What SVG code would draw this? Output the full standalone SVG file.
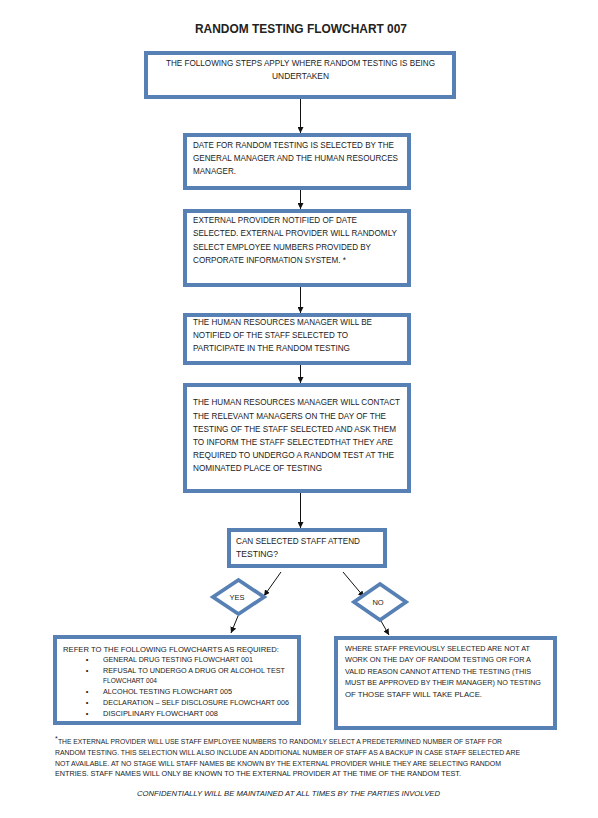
<svg xmlns="http://www.w3.org/2000/svg" width="598" height="818" viewBox="0 0 598 818">
<defs>
<marker id="ah" viewBox="0 0 10 10" refX="10" refY="5" markerWidth="6" markerHeight="6" markerUnits="userSpaceOnUse" orient="auto">
<path d="M0,0 L10,5 L0,10 Z" fill="#111"/>
</marker>
</defs>
<style>
.box{fill:#fff;stroke:#5780b4;stroke-width:4}
.dia{fill:#fff;stroke:#5780b4;stroke-width:3.8}
.t{font-family:"Liberation Sans",Arial,sans-serif;font-size:8.4px;fill:#222}
.s{font-family:"Liberation Sans",Arial,sans-serif;font-size:7.5px;fill:#222}
.f{font-family:"Liberation Sans",Arial,sans-serif;font-size:7px;fill:#222}
.c{stroke:#111;stroke-width:1;fill:none;marker-end:url(#ah)}
</style>
<rect width="598" height="818" fill="#fff"/>
<text x="301" y="33" text-anchor="middle" font-family="Liberation Sans,Arial,sans-serif" font-weight="bold" font-size="13.5" fill="#222" textLength="212" lengthAdjust="spacingAndGlyphs">RANDOM TESTING FLOWCHART 007</text>

<g id="connectors">
<line class="c" x1="300.5" y1="99" x2="300.5" y2="133"/>
<line class="c" x1="300.5" y1="190" x2="300.5" y2="209"/>
<line class="c" x1="300.5" y1="287" x2="300.5" y2="313"/>
<line class="c" x1="300.5" y1="365" x2="300.5" y2="383"/>
<line class="c" x1="300.5" y1="493" x2="300.5" y2="528"/>
<line class="c" x1="281" y1="572" x2="264" y2="596"/>
<line class="c" x1="343" y1="572" x2="364" y2="597"/>
<line class="c" x1="238" y1="616" x2="231" y2="633"/>
<line class="c" x1="381" y1="621" x2="389" y2="635"/>
</g>

<g id="n1">
<rect class="box" x="146" y="53" width="308" height="44"/>
<text class="t" x="300.5" y="66" text-anchor="middle" textLength="269" lengthAdjust="spacingAndGlyphs">THE FOLLOWING STEPS APPLY WHERE RANDOM TESTING IS BEING</text>
<text class="t" x="300.5" y="79" text-anchor="middle">UNDERTAKEN</text>
</g>

<g id="n2">
<rect class="box" x="185" y="135" width="224" height="53"/>
<text class="t" x="193" y="148" textLength="201" lengthAdjust="spacingAndGlyphs">DATE FOR RANDOM TESTING IS SELECTED BY THE</text>
<text class="t" x="193" y="161" textLength="205" lengthAdjust="spacingAndGlyphs">GENERAL MANAGER AND THE HUMAN RESOURCES</text>
<text class="t" x="193" y="174" textLength="43" lengthAdjust="spacingAndGlyphs">MANAGER.</text>
</g>

<g id="n3">
<rect class="box" x="185" y="211" width="224" height="74"/>
<text class="t" x="193" y="223" textLength="164" lengthAdjust="spacingAndGlyphs">EXTERNAL PROVIDER NOTIFIED OF DATE</text>
<text class="t" x="193" y="236" textLength="204" lengthAdjust="spacingAndGlyphs">SELECTED. EXTERNAL PROVIDER WILL RANDOMLY</text>
<text class="t" x="193" y="250" textLength="178" lengthAdjust="spacingAndGlyphs">SELECT EMPLOYEE NUMBERS PROVIDED BY</text>
<text class="t" x="193" y="263" textLength="153" lengthAdjust="spacingAndGlyphs">CORPORATE INFORMATION SYSTEM. *</text>
</g>

<g id="n4">
<rect class="box" x="185" y="315" width="224" height="48"/>
<text class="t" x="193" y="325" textLength="179" lengthAdjust="spacingAndGlyphs">THE HUMAN RESOURCES MANAGER WILL BE</text>
<text class="t" x="193" y="338" textLength="155" lengthAdjust="spacingAndGlyphs">NOTIFIED OF THE STAFF SELECTED TO</text>
<text class="t" x="193" y="351" textLength="157" lengthAdjust="spacingAndGlyphs">PARTICIPATE IN THE RANDOM TESTING</text>
</g>

<g id="n5">
<rect class="box" x="185" y="385" width="224" height="106"/>
<text class="t" x="193" y="405" textLength="207" lengthAdjust="spacingAndGlyphs">THE HUMAN RESOURCES MANAGER WILL CONTACT</text>
<text class="t" x="193" y="418.5" textLength="193" lengthAdjust="spacingAndGlyphs">THE RELEVANT MANAGERS ON THE DAY OF THE</text>
<text class="t" x="193" y="431.5" textLength="203" lengthAdjust="spacingAndGlyphs">TESTING OF THE STAFF SELECTED AND ASK THEM</text>
<text class="t" x="193" y="444.5" textLength="200" lengthAdjust="spacingAndGlyphs">TO INFORM THE STAFF SELECTEDTHAT THEY ARE</text>
<text class="t" x="193" y="457.5" textLength="201" lengthAdjust="spacingAndGlyphs">REQUIRED TO UNDERGO A RANDOM TEST AT THE</text>
<text class="t" x="193" y="471" textLength="129" lengthAdjust="spacingAndGlyphs">NOMINATED PLACE OF TESTING</text>
</g>

<g id="decision">
<rect class="box" x="229" y="530" width="156" height="36"/>
<text class="t" x="236" y="544" textLength="124" lengthAdjust="spacingAndGlyphs">CAN SELECTED STAFF ATTEND</text>
<text class="t" x="236" y="557" textLength="42" lengthAdjust="spacingAndGlyphs">TESTING?</text>
</g>

<g id="yes">
<polygon class="dia" points="238.5,580 264,597 238.5,614 213,597"/>
<text class="s" x="237" y="599.5" text-anchor="middle">YES</text>
</g>

<g id="no">
<polygon class="dia" points="380,584 406,602 380,620 354,602"/>
<text class="s" x="378" y="604.5" text-anchor="middle" font-size="8">NO</text>
</g>

<g id="refer">
<rect class="box" x="55" y="637" width="244" height="86"/>
<text class="s" x="63" y="652" textLength="216" lengthAdjust="spacingAndGlyphs">REFER TO THE FOLLOWING FLOWCHARTS AS REQUIRED:</text>
<text class="s" x="87" y="662" text-anchor="middle">•</text>
<text class="s" x="103" y="662" textLength="150" lengthAdjust="spacingAndGlyphs">GENERAL DRUG TESTING FLOWCHART 001</text>
<text class="s" x="87" y="673" text-anchor="middle">•</text>
<text class="s" x="103" y="673" textLength="182" lengthAdjust="spacingAndGlyphs">REFUSAL TO UNDERGO A DRUG OR ALCOHOL TEST</text>
<text class="s" x="103" y="682.5" textLength="54" lengthAdjust="spacingAndGlyphs">FLOWCHART 004</text>
<text class="s" x="87" y="694" text-anchor="middle">•</text>
<text class="s" x="103" y="694" textLength="129" lengthAdjust="spacingAndGlyphs">ALCOHOL TESTING FLOWCHART 005</text>
<text class="s" x="87" y="705" text-anchor="middle">•</text>
<text class="s" x="103" y="705" textLength="186" lengthAdjust="spacingAndGlyphs">DECLARATION – SELF DISCLOSURE FLOWCHART 006</text>
<text class="s" x="87" y="716" text-anchor="middle">•</text>
<text class="s" x="103" y="716" textLength="115" lengthAdjust="spacingAndGlyphs">DISCIPLINARY FLOWCHART 008</text>
</g>

<g id="where">
<rect class="box" x="336" y="638" width="219" height="90"/>
<text class="s" x="345" y="651" textLength="185" lengthAdjust="spacingAndGlyphs">WHERE STAFF PREVIOUSLY SELECTED ARE NOT AT</text>
<text class="s" x="345" y="662" textLength="186" lengthAdjust="spacingAndGlyphs">WORK ON THE DAY OF RANDOM TESTING OR FOR A</text>
<text class="s" x="345" y="673.5" textLength="186" lengthAdjust="spacingAndGlyphs">VALID REASON CANNOT ATTEND THE TESTING (THIS</text>
<text class="s" x="345" y="685" textLength="196" lengthAdjust="spacingAndGlyphs">MUST BE APPROVED BY THEIR MANAGER) NO TESTING</text>
<text class="s" x="345" y="696.5" textLength="137" lengthAdjust="spacingAndGlyphs">OF THOSE STAFF WILL TAKE PLACE.</text>
</g>

<g id="footnote">
<text class="f" x="55" y="741" font-size="6">*</text>
<text class="f" x="58" y="744" textLength="444" lengthAdjust="spacingAndGlyphs">THE EXTERNAL PROVIDER WILL USE STAFF EMPLOYEE NUMBERS TO RANDOMLY SELECT A PREDETERMINED NUMBER OF STAFF FOR</text>
<text class="f" x="55" y="755" textLength="465" lengthAdjust="spacingAndGlyphs">RANDOM TESTING. THIS SELECTION WILL ALSO INCLUDE AN ADDITIONAL NUMBER OF STAFF AS A BACKUP IN CASE STAFF SELECTED ARE</text>
<text class="f" x="55" y="765.5" textLength="446" lengthAdjust="spacingAndGlyphs">NOT AVAILABLE. AT NO STAGE WILL STAFF NAMES BE KNOWN BY THE EXTERNAL PROVIDER WHILE THEY ARE SELECTING RANDOM</text>
<text class="f" x="55" y="776" textLength="406" lengthAdjust="spacingAndGlyphs">ENTRIES. STAFF NAMES WILL ONLY BE KNOWN TO THE EXTERNAL PROVIDER AT THE TIME OF THE RANDOM TEST.</text>
<text class="f" x="288.5" y="796" text-anchor="middle" font-style="italic" font-size="7.5" textLength="303" lengthAdjust="spacingAndGlyphs">CONFIDENTIALLY WILL BE MAINTAINED AT ALL TIMES BY THE PARTIES INVOLVED</text>
</g>
</svg>
